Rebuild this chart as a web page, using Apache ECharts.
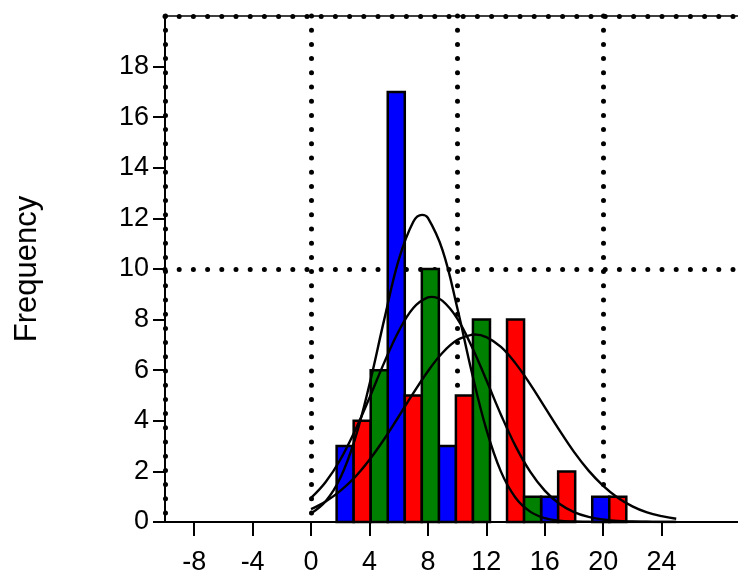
<!DOCTYPE html>
<html>
<head>
<meta charset="utf-8">
<script src="https://cdn.jsdelivr.net/npm/echarts@6/dist/echarts.min.js"></script>
<style>
html,body{margin:0;padding:0;background:#fff;}
#chart{width:738px;height:576px;}
</style>
</head>
<body>
<div id="chart"></div>
<script>
// Histogram bins (centers) and bin width
const binCenters = [3.5, 7, 10.5, 14, 17.5, 21];
const binWidth = 3.5;
const blueCounts = [3, 17, 3, 0, 1, 1];
const redCounts = [4, 5, 5, 8, 2, 1];
const greenCounts = [6, 10, 8, 1, 0, 0];

// Fitted curves
const curveAX = [0,1,2,3,4,5,6,7,7.6,8,9,10,11,12,13,14,15,16,17,18,19,20,21,22,23,24,25];
const curveAY = [0.34,0.82,1.74,3.27,5.44,7.98,10.36,11.87,12.14,12.02,10.75,8.49,5.93,3.66,1.99,0.96,0.41,0.15,0.05,0.02,0.01,0,0,0,0,0,0];
const curveBX = [0,1,2,3,4,5,6,7,8,8.25,9,10,11,12,13,14,15,16,17,18,19,20,21,22,23,24,25];
const curveBY = [0.95,1.58,2.46,3.60,4.91,6.29,7.54,8.46,8.88,8.90,8.74,8.05,6.94,5.61,4.24,3.00,1.99,1.24,0.72,0.39,0.20,0.10,0.04,0.02,0.01,0,0];
const curveCX = [0,1,2,3,4,5,6,7,8,9,10,11,11.2,12,13,14,15,16,17,18,19,20,21,22,23,24,25];
const curveCY = [0.51,0.81,1.23,1.77,2.46,3.27,4.17,5.09,5.96,6.69,7.19,7.40,7.41,7.31,6.92,6.27,5.45,4.54,3.63,2.77,2.03,1.43,0.96,0.62,0.38,0.23,0.13];

// Tick labels
const xTickValues = [-8, -4, 0, 4, 8, 12, 16, 20, 24];
const yTickValues = [0, 2, 4, 6, 8, 10, 12, 14, 16, 18];

const X_MIN = -10, X_MAX = 29.23, Y_MIN = 0, Y_MAX = 20;

const FONT = '"Liberation Sans", Arial, Helvetica, sans-serif';
const dotted = {color: '#000', width: 5, type: [0, 14.2], cap: 'round'};

function barSeries(name, counts, slot, color) {
  return {
    name: name,
    type: 'custom',
    data: binCenters.map((c, i) => [c, counts[i]]),
    renderItem: function (params, api) {
      const c = api.value(0), v = api.value(1);
      if (!v) return null;
      const start = c - binWidth / 2 + slot * binWidth / 3;
      const end = start + binWidth / 3;
      const p1 = api.coord([start, v]);
      const p0 = api.coord([end, 0]);
      return {
        type: 'rect',
        shape: {x: p1[0], y: p1[1], width: p0[0] - p1[0], height: p0[1] - p1[1]},
        style: {fill: color, stroke: '#000', lineWidth: 2.5}
      };
    },
    z: 2
  };
}

function curveSeries(xs, ys) {
  return {
    type: 'line',
    data: xs.map((x, i) => [x, ys[i]]),
    smooth: 0.4,
    symbol: 'none',
    lineStyle: {color: '#000', width: 2.4},
    z: 3
  };
}

const chart = echarts.init(document.getElementById('chart'), null, {renderer: 'canvas'});
chart.setOption({
  animation: false,
  backgroundColor: '#fff',
  grid: {left: 165, right: 0, top: 16, bottom: 50},
  xAxis: [{
    type: 'value', min: X_MIN, max: X_MAX, position: 'bottom',
    axisLine: {show: true, onZero: false, lineStyle: {color: '#000', width: 2}},
    axisTick: {show: true, customValues: xTickValues, length: 14, lineStyle: {color: '#000', width: 2}},
    axisLabel: {customValues: xTickValues, fontSize: 27, color: '#000', margin: 27, fontFamily: FONT},
    splitLine: {show: false}
  }, {
    type: 'value', min: X_MIN, max: X_MAX, interval: 10, position: 'top',
    axisLine: {show: true, onZero: false, lineStyle: {color: '#000', width: 1.5}},
    axisTick: {show: false}, axisLabel: {show: false},
    splitLine: {show: true, showMinLine: true, showMaxLine: false, lineStyle: dotted}
  }],
  yAxis: [{
    type: 'value', min: Y_MIN, max: Y_MAX, position: 'left',
    axisLine: {show: true, onZero: false, lineStyle: {color: '#000', width: 2}},
    axisTick: {show: true, customValues: yTickValues, length: 12, lineStyle: {color: '#000', width: 2}},
    axisLabel: {customValues: yTickValues, fontSize: 27, color: '#000', margin: 16, padding: [6, 0, 0, 0], fontFamily: FONT},
    splitLine: {show: false},
    name: 'Frequency', nameLocation: 'middle', nameGap: 122,
    nameTextStyle: {fontSize: 31, color: '#000', fontFamily: FONT}
  }, {
    type: 'value', min: Y_MIN, max: Y_MAX, interval: 10, position: 'right',
    axisLine: {show: false}, axisTick: {show: false}, axisLabel: {show: false},
    splitLine: {show: true, showMinLine: false, showMaxLine: true, lineStyle: dotted}
  }],
  series: [
    barSeries('Blue', blueCounts, 0, '#0000ff'),
    barSeries('Red', redCounts, 1, '#ff0000'),
    barSeries('Green', greenCounts, 2, '#008000'),
    curveSeries(curveAX, curveAY),
    curveSeries(curveBX, curveBY),
    curveSeries(curveCX, curveCY)
  ]
});
</script>
</body>
</html>
